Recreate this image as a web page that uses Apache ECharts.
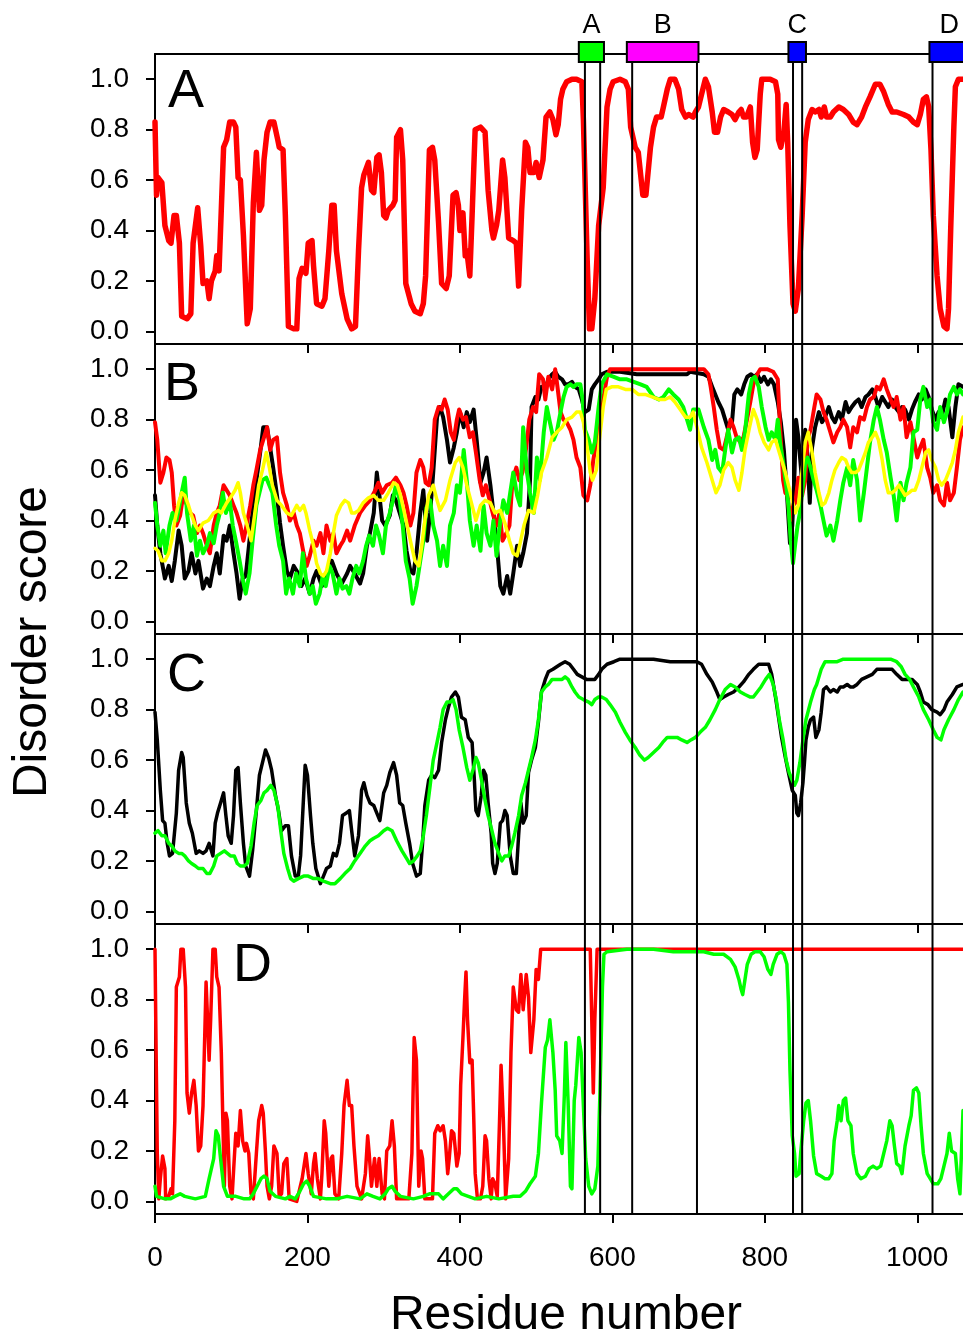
<!DOCTYPE html>
<html><head><meta charset="utf-8">
<script src="https://cdn.jsdelivr.net/npm/echarts@6/dist/echarts.min.js"></script>
<style>html,body{margin:0;padding:0;background:#fff}#c{width:963px;height:1336px}</style>
</head><body><div id="c"></div>
<script>
// ---------- axis ticks ----------
const xTicks = [0, 200, 400, 600, 800, 1000];
const yTicks = [0, 0.2, 0.4, 0.6, 0.8, 1.0];
// ---------- domains & boundaries ----------
const domainNames = ['A', 'B', 'C', 'D'];
const domainStart = [556, 619, 831, 1016];
const domainEnd = [589, 713, 854, 1068];
const domainColors = ['#00ff00', '#ff00ff', '#0000ff', '#0000ff'];
const boundaryLines = [564, 584, 626, 711, 837, 849, 1020];
const panelLetters = ['A', 'B', 'C', 'D'];

// ---------- panel A ----------
const aRed = [[0,0.83],[2,0.54],[4,0.61],[9,0.59],[13,0.42],[18,0.36],[21,0.35],[25,0.46],[28,0.46],[32,0.35],[35,0.06],[42,0.05],[47,0.07],[50,0.35],[56,0.49],[60,0.34],[63,0.19],[68,0.20],[71,0.13],[74,0.20],[79,0.24],[81,0.30],[84,0.24],[90,0.73],[94,0.76],[98,0.83],[103,0.83],[106,0.81],[109,0.61],[112,0.60],[116,0.38],[121,0.03],[125,0.09],[129,0.51],[133,0.71],[137,0.48],[140,0.50],[143,0.68],[147,0.79],[151,0.83],[156,0.83],[161,0.76],[163,0.73],[168,0.72],[171,0.46],[175,0.02],[182,0.01],[186,0.01],[189,0.21],[193,0.25],[198,0.23],[201,0.35],[206,0.36],[208,0.26],[212,0.11],[219,0.10],[223,0.13],[228,0.32],[232,0.50],[235,0.50],[238,0.32],[245,0.15],[252,0.05],[258,0.01],[263,0.02],[267,0.32],[271,0.57],[274,0.62],[280,0.67],[284,0.56],[287,0.55],[291,0.69],[294,0.70],[297,0.63],[300,0.46],[303,0.45],[306,0.48],[312,0.50],[315,0.52],[317,0.77],[322,0.80],[325,0.68],[329,0.19],[336,0.11],[341,0.08],[348,0.07],[352,0.11],[355,0.22],[360,0.72],[364,0.73],[367,0.68],[372,0.43],[376,0.19],[382,0.17],[386,0.22],[391,0.54],[395,0.55],[398,0.50],[400,0.40],[404,0.47],[407,0.30],[409,0.32],[413,0.22],[416,0.46],[420,0.80],[427,0.81],[433,0.79],[435,0.79],[437,0.56],[442,0.40],[444,0.37],[448,0.42],[451,0.48],[456,0.68],[459,0.61],[464,0.37],[470,0.36],[474,0.35],[477,0.18],[481,0.48],[486,0.75],[489,0.73],[492,0.63],[497,0.63],[500,0.67],[504,0.61],[509,0.68],[513,0.85],[518,0.87],[522,0.84],[526,0.78],[529,0.82],[532,0.92],[535,0.96],[540,0.99],[547,1.00],[553,1.00],[560,0.99],[562,0.84],[567,0.28],[570,0.01],[573,0.01],[577,0.13],[582,0.42],[588,0.57],[593,0.89],[597,0.96],[601,0.99],[610,1.00],[617,0.99],[621,0.96],[624,0.81],[630,0.73],[634,0.71],[640,0.54],[644,0.54],[650,0.73],[654,0.81],[658,0.85],[664,0.85],[667,0.89],[672,0.96],[676,1.00],[682,1.00],[687,0.96],[691,0.88],[696,0.85],[700,0.86],[706,0.85],[709,0.87],[713,0.89],[717,0.94],[722,1.00],[726,0.97],[731,0.87],[734,0.79],[738,0.79],[742,0.85],[746,0.88],[752,0.87],[757,0.86],[761,0.84],[766,0.87],[769,0.88],[772,0.85],[776,0.85],[781,0.89],[784,0.75],[787,0.69],[790,0.72],[794,0.94],[796,1.00],[807,1.00],[814,0.99],[817,0.94],[818,0.76],[821,0.73],[825,0.79],[828,0.90],[830,0.75],[833,0.42],[837,0.11],[840,0.08],[844,0.17],[849,0.46],[853,0.75],[857,0.84],[862,0.88],[866,0.87],[871,0.88],[874,0.85],[878,0.89],[881,0.85],[886,0.85],[890,0.87],[897,0.89],[903,0.88],[910,0.86],[916,0.83],[921,0.82],[927,0.85],[932,0.89],[938,0.93],[945,0.98],[951,0.98],[956,0.95],[962,0.90],[967,0.87],[973,0.87],[982,0.86],[989,0.85],[995,0.83],[1000,0.82],[1004,0.86],[1008,0.92],[1012,0.93],[1015,0.89],[1018,0.72],[1021,0.46],[1026,0.22],[1030,0.09],[1035,0.02],[1039,0.01],[1041,0.09],[1044,0.42],[1048,0.81],[1050,0.97],[1054,1.00],[1060,1.00]];

// ---------- panel B ----------
const bBlack = [[0,0.50],[3,0.38],[7,0.27],[10,0.22],[13,0.17],[18,0.22],[22,0.16],[26,0.24],[31,0.36],[35,0.30],[39,0.17],[44,0.20],[48,0.27],[53,0.19],[57,0.24],[63,0.13],[68,0.17],[72,0.14],[77,0.22],[81,0.27],[85,0.19],[90,0.34],[94,0.32],[98,0.38],[103,0.27],[107,0.19],[111,0.09],[115,0.17],[119,0.18],[125,0.35],[129,0.46],[133,0.56],[138,0.67],[142,0.77],[147,0.77],[151,0.69],[155,0.61],[160,0.50],[164,0.39],[168,0.30],[173,0.20],[177,0.17],[182,0.22],[188,0.19],[192,0.14],[197,0.17],[203,0.11],[208,0.17],[212,0.20],[219,0.14],[225,0.19],[232,0.24],[238,0.19],[245,0.15],[252,0.19],[256,0.22],[262,0.19],[269,0.15],[273,0.19],[278,0.30],[282,0.35],[287,0.43],[291,0.59],[294,0.51],[298,0.40],[302,0.38],[308,0.42],[312,0.50],[316,0.48],[321,0.43],[326,0.38],[330,0.28],[335,0.20],[339,0.19],[343,0.27],[348,0.43],[352,0.52],[357,0.32],[361,0.43],[365,0.59],[370,0.81],[374,0.85],[378,0.81],[383,0.72],[387,0.63],[392,0.69],[396,0.75],[400,0.83],[405,0.77],[409,0.83],[413,0.79],[418,0.84],[422,0.72],[427,0.55],[431,0.59],[435,0.65],[440,0.54],[444,0.43],[448,0.32],[453,0.14],[457,0.11],[462,0.18],[466,0.11],[470,0.19],[475,0.30],[479,0.22],[483,0.27],[488,0.35],[492,0.56],[494,0.85],[499,0.89],[503,0.88],[507,0.93],[512,0.92],[516,0.96],[521,0.98],[525,0.99],[529,0.97],[534,0.96],[538,0.94],[542,0.94],[547,0.95],[551,0.93],[556,0.92],[560,0.88],[564,0.83],[569,0.84],[573,0.92],[577,0.94],[582,0.96],[586,0.98],[593,0.99],[610,0.99],[632,0.98],[654,0.98],[676,0.98],[698,0.98],[702,0.99],[720,0.98],[726,0.97],[731,0.93],[735,0.90],[739,0.87],[744,0.84],[748,0.80],[752,0.76],[757,0.79],[760,0.90],[764,0.92],[769,0.90],[773,0.94],[777,0.97],[782,0.98],[786,0.97],[790,0.98],[795,0.95],[799,0.97],[804,0.94],[808,0.96],[812,0.94],[817,0.87],[821,0.79],[825,0.68],[829,0.51],[833,0.31],[836,0.38],[839,0.59],[841,0.80],[844,0.73],[849,0.55],[853,0.76],[856,0.65],[859,0.47],[862,0.69],[866,0.77],[871,0.83],[875,0.79],[879,0.81],[884,0.85],[888,0.81],[892,0.79],[897,0.83],[901,0.80],[906,0.87],[910,0.83],[914,0.85],[919,0.87],[923,0.88],[927,0.85],[932,0.89],[936,0.90],[941,0.92],[945,0.89],[949,0.85],[954,0.89],[958,0.87],[962,0.85],[967,0.88],[971,0.85],[976,0.83],[980,0.85],[984,0.84],[989,0.80],[993,0.84],[997,0.87],[1002,0.90],[1006,0.88],[1011,0.92],[1015,0.89],[1019,0.84],[1024,0.80],[1028,0.83],[1032,0.81],[1037,0.88],[1041,0.85],[1046,0.73],[1050,0.85],[1054,0.94],[1060,0.93]];
const bRed = [[0,0.79],[3,0.72],[7,0.55],[11,0.59],[15,0.65],[19,0.64],[22,0.59],[25,0.46],[28,0.38],[33,0.42],[37,0.50],[42,0.46],[46,0.43],[50,0.42],[55,0.35],[59,0.38],[63,0.35],[68,0.30],[72,0.27],[77,0.38],[81,0.43],[85,0.46],[90,0.54],[94,0.52],[98,0.50],[103,0.46],[107,0.43],[112,0.38],[116,0.32],[120,0.38],[125,0.46],[129,0.54],[133,0.60],[138,0.68],[142,0.72],[147,0.77],[151,0.68],[155,0.72],[160,0.73],[164,0.59],[168,0.51],[173,0.46],[177,0.40],[182,0.43],[186,0.38],[190,0.35],[195,0.27],[199,0.22],[203,0.26],[208,0.32],[212,0.30],[217,0.35],[221,0.27],[225,0.38],[230,0.32],[234,0.35],[238,0.27],[243,0.30],[247,0.32],[252,0.36],[256,0.32],[262,0.38],[269,0.43],[276,0.46],[282,0.48],[289,0.52],[293,0.55],[298,0.51],[304,0.54],[311,0.55],[316,0.57],[322,0.54],[326,0.51],[330,0.46],[335,0.38],[339,0.43],[343,0.59],[348,0.64],[352,0.61],[355,0.55],[359,0.54],[363,0.61],[367,0.80],[372,0.85],[376,0.84],[380,0.88],[384,0.84],[388,0.75],[392,0.72],[396,0.80],[399,0.84],[404,0.80],[408,0.81],[413,0.73],[417,0.75],[421,0.67],[426,0.56],[430,0.50],[434,0.54],[439,0.48],[443,0.43],[448,0.38],[452,0.43],[456,0.32],[461,0.35],[465,0.38],[469,0.56],[474,0.61],[478,0.56],[482,0.59],[487,0.69],[491,0.80],[496,0.85],[500,0.83],[504,0.98],[509,0.96],[512,0.88],[516,0.97],[521,0.92],[525,1.00],[528,0.93],[532,0.83],[536,0.80],[540,0.79],[545,0.76],[549,0.72],[553,0.65],[558,0.61],[562,0.50],[567,0.48],[571,0.54],[575,0.64],[580,0.73],[584,0.80],[588,0.88],[593,0.97],[597,1.00],[720,1.00],[726,0.98],[729,0.93],[733,0.85],[737,0.76],[741,0.69],[746,0.68],[750,0.73],[755,0.80],[759,0.77],[763,0.73],[768,0.71],[772,0.73],[776,0.79],[781,0.87],[785,0.94],[790,0.98],[794,1.00],[803,1.00],[811,0.99],[817,0.96],[820,0.77],[824,0.56],[827,0.51],[830,0.50],[833,0.40],[837,0.46],[840,0.47],[844,0.57],[849,0.50],[853,0.56],[856,0.72],[860,0.76],[865,0.85],[868,0.90],[873,0.88],[877,0.83],[881,0.80],[886,0.75],[890,0.71],[895,0.75],[899,0.77],[903,0.80],[908,0.77],[912,0.69],[916,0.77],[921,0.75],[925,0.81],[930,0.80],[934,0.85],[938,0.88],[943,0.89],[947,0.93],[951,0.92],[956,0.96],[960,0.92],[965,0.88],[969,0.85],[973,0.89],[978,0.80],[982,0.85],[986,0.73],[991,0.79],[995,0.73],[1000,0.65],[1004,0.69],[1008,0.72],[1013,0.61],[1017,0.57],[1021,0.51],[1026,0.54],[1030,0.48],[1035,0.46],[1039,0.55],[1043,0.48],[1048,0.51],[1052,0.61],[1056,0.72],[1060,0.77]];
const bGreen = [[0,0.47],[3,0.38],[7,0.30],[11,0.36],[14,0.27],[19,0.38],[23,0.43],[28,0.40],[32,0.46],[35,0.51],[39,0.57],[42,0.43],[47,0.32],[51,0.38],[55,0.26],[59,0.32],[63,0.27],[68,0.30],[72,0.35],[77,0.31],[81,0.38],[85,0.43],[89,0.51],[93,0.43],[98,0.48],[102,0.38],[106,0.32],[111,0.24],[115,0.17],[119,0.11],[124,0.19],[128,0.32],[133,0.46],[137,0.51],[141,0.56],[146,0.57],[150,0.54],[154,0.51],[159,0.38],[163,0.30],[168,0.24],[172,0.11],[176,0.17],[181,0.11],[185,0.19],[190,0.14],[194,0.27],[198,0.17],[203,0.11],[207,0.14],[211,0.07],[216,0.11],[220,0.18],[224,0.14],[229,0.22],[233,0.19],[238,0.11],[242,0.17],[246,0.13],[251,0.14],[255,0.11],[259,0.17],[264,0.22],[268,0.19],[273,0.24],[277,0.30],[281,0.34],[286,0.30],[290,0.38],[294,0.34],[299,0.27],[303,0.38],[308,0.43],[312,0.48],[316,0.54],[321,0.48],[325,0.38],[329,0.24],[334,0.17],[338,0.07],[343,0.14],[347,0.22],[352,0.32],[356,0.45],[361,0.48],[365,0.38],[370,0.32],[374,0.22],[378,0.30],[383,0.22],[387,0.38],[392,0.43],[396,0.54],[400,0.51],[405,0.68],[409,0.56],[413,0.40],[418,0.30],[422,0.38],[427,0.28],[431,0.46],[435,0.35],[440,0.30],[444,0.40],[448,0.26],[453,0.40],[457,0.48],[462,0.43],[466,0.51],[470,0.59],[475,0.50],[479,0.46],[483,0.77],[488,0.59],[492,0.51],[497,0.43],[501,0.65],[505,0.56],[510,0.75],[514,0.85],[518,0.79],[523,0.72],[527,0.75],[532,0.83],[536,0.89],[540,0.93],[545,0.94],[549,0.93],[553,0.94],[558,0.94],[561,0.88],[564,0.76],[569,0.72],[573,0.67],[577,0.71],[582,0.85],[586,0.94],[593,0.98],[602,0.97],[610,0.96],[619,0.96],[628,0.95],[637,0.94],[645,0.93],[654,0.89],[661,0.88],[667,0.89],[674,0.92],[680,0.90],[687,0.88],[693,0.85],[698,0.80],[702,0.76],[706,0.84],[713,0.84],[720,0.77],[726,0.72],[731,0.64],[735,0.68],[739,0.61],[744,0.59],[748,0.68],[752,0.76],[757,0.67],[761,0.72],[766,0.73],[770,0.68],[774,0.75],[779,0.90],[783,0.96],[787,0.97],[792,0.93],[796,0.85],[801,0.77],[805,0.72],[809,0.75],[814,0.72],[817,0.80],[820,0.71],[825,0.61],[828,0.54],[831,0.46],[834,0.32],[837,0.23],[840,0.31],[843,0.38],[846,0.43],[850,0.54],[853,0.63],[856,0.65],[860,0.61],[864,0.56],[868,0.52],[873,0.46],[877,0.40],[881,0.34],[886,0.38],[890,0.32],[895,0.40],[899,0.48],[903,0.55],[908,0.61],[912,0.54],[916,0.64],[921,0.56],[925,0.40],[930,0.51],[934,0.61],[938,0.71],[943,0.80],[947,0.85],[951,0.80],[956,0.72],[960,0.67],[965,0.57],[969,0.50],[973,0.40],[978,0.55],[982,0.48],[986,0.55],[991,0.61],[995,0.75],[1000,0.76],[1004,0.88],[1008,0.93],[1013,0.85],[1017,0.88],[1021,0.79],[1026,0.76],[1030,0.85],[1035,0.79],[1039,0.83],[1043,0.90],[1048,0.93],[1052,0.90],[1056,0.92],[1060,0.90]];
const bYellow = [[0,0.29],[4,0.28],[9,0.24],[13,0.24],[18,0.27],[22,0.32],[26,0.40],[31,0.47],[35,0.51],[39,0.50],[44,0.46],[48,0.42],[53,0.38],[57,0.36],[63,0.39],[70,0.40],[77,0.43],[83,0.44],[87,0.43],[94,0.47],[101,0.50],[105,0.52],[109,0.55],[112,0.51],[116,0.43],[121,0.38],[126,0.32],[131,0.43],[136,0.54],[141,0.60],[146,0.67],[150,0.61],[154,0.54],[160,0.48],[166,0.46],[173,0.43],[179,0.42],[186,0.46],[190,0.44],[195,0.46],[198,0.43],[203,0.36],[208,0.30],[212,0.23],[217,0.19],[221,0.18],[225,0.20],[230,0.27],[234,0.35],[238,0.42],[244,0.46],[249,0.48],[254,0.47],[258,0.43],[262,0.43],[267,0.44],[273,0.47],[280,0.49],[287,0.50],[293,0.48],[300,0.48],[306,0.51],[313,0.55],[318,0.54],[322,0.50],[328,0.42],[335,0.32],[341,0.24],[346,0.22],[350,0.30],[354,0.40],[359,0.50],[365,0.54],[370,0.48],[374,0.44],[381,0.48],[387,0.56],[394,0.63],[399,0.65],[404,0.61],[409,0.54],[416,0.46],[421,0.40],[427,0.46],[433,0.48],[440,0.47],[446,0.43],[453,0.44],[459,0.39],[465,0.32],[470,0.27],[475,0.26],[479,0.31],[484,0.38],[490,0.44],[497,0.43],[502,0.50],[507,0.59],[514,0.65],[521,0.73],[527,0.75],[534,0.77],[540,0.80],[547,0.81],[553,0.83],[558,0.83],[562,0.79],[567,0.69],[571,0.59],[574,0.56],[579,0.60],[583,0.72],[588,0.85],[592,0.92],[599,0.93],[608,0.93],[617,0.92],[626,0.92],[634,0.90],[643,0.90],[652,0.89],[661,0.88],[669,0.88],[676,0.89],[682,0.87],[689,0.84],[696,0.81],[702,0.81],[706,0.83],[711,0.77],[717,0.69],[724,0.63],[731,0.56],[736,0.51],[741,0.54],[746,0.60],[752,0.63],[757,0.61],[761,0.56],[766,0.52],[770,0.59],[774,0.68],[780,0.77],[785,0.84],[790,0.80],[794,0.75],[799,0.71],[805,0.68],[809,0.71],[814,0.72],[818,0.68],[822,0.64],[827,0.59],[831,0.54],[836,0.48],[840,0.43],[844,0.46],[849,0.60],[853,0.71],[857,0.75],[862,0.67],[866,0.59],[871,0.51],[875,0.46],[879,0.47],[884,0.51],[888,0.56],[892,0.60],[897,0.63],[901,0.65],[906,0.64],[910,0.61],[914,0.59],[919,0.59],[923,0.60],[927,0.63],[932,0.67],[936,0.71],[941,0.73],[945,0.75],[949,0.72],[954,0.64],[958,0.56],[962,0.51],[967,0.51],[971,0.52],[976,0.54],[980,0.52],[984,0.50],[989,0.51],[993,0.52],[997,0.52],[1002,0.56],[1006,0.61],[1011,0.67],[1015,0.68],[1019,0.64],[1024,0.61],[1028,0.56],[1032,0.54],[1037,0.56],[1041,0.59],[1046,0.63],[1050,0.68],[1054,0.75],[1060,0.81]];

// ---------- panel C ----------
const cBlack = [[0,0.79],[3,0.68],[7,0.48],[10,0.36],[13,0.35],[16,0.27],[19,0.22],[23,0.23],[28,0.39],[31,0.56],[35,0.63],[37,0.61],[41,0.43],[45,0.35],[49,0.31],[54,0.23],[58,0.24],[63,0.23],[67,0.24],[71,0.27],[76,0.22],[79,0.35],[82,0.39],[86,0.43],[90,0.47],[93,0.38],[96,0.30],[100,0.27],[103,0.38],[106,0.56],[109,0.57],[112,0.43],[116,0.27],[119,0.18],[124,0.14],[128,0.24],[133,0.40],[137,0.54],[141,0.59],[145,0.64],[149,0.61],[153,0.56],[158,0.46],[162,0.40],[166,0.32],[171,0.34],[175,0.34],[179,0.22],[184,0.14],[188,0.14],[191,0.22],[195,0.46],[197,0.58],[200,0.54],[204,0.38],[207,0.27],[211,0.17],[214,0.14],[217,0.11],[221,0.14],[225,0.17],[230,0.18],[234,0.23],[238,0.22],[242,0.27],[246,0.38],[251,0.39],[255,0.40],[258,0.32],[262,0.22],[267,0.30],[271,0.48],[274,0.51],[278,0.46],[282,0.43],[287,0.42],[291,0.39],[295,0.36],[300,0.47],[304,0.50],[308,0.55],[313,0.59],[317,0.54],[321,0.43],[325,0.42],[329,0.35],[334,0.27],[338,0.19],[343,0.14],[348,0.15],[351,0.27],[354,0.42],[359,0.52],[363,0.54],[367,0.53],[372,0.56],[376,0.67],[381,0.76],[385,0.81],[389,0.85],[394,0.87],[398,0.85],[402,0.77],[407,0.76],[411,0.69],[416,0.67],[419,0.52],[421,0.40],[424,0.38],[428,0.46],[431,0.56],[434,0.54],[437,0.43],[441,0.31],[443,0.19],[446,0.15],[449,0.19],[453,0.35],[456,0.36],[459,0.40],[462,0.38],[466,0.22],[470,0.15],[474,0.15],[477,0.30],[480,0.43],[483,0.35],[487,0.38],[490,0.55],[494,0.60],[499,0.65],[503,0.75],[507,0.87],[512,0.92],[516,0.95],[522,0.96],[527,0.97],[532,0.98],[538,0.99],[544,0.98],[549,0.96],[554,0.94],[560,0.93],[566,0.92],[573,0.92],[577,0.92],[582,0.94],[586,0.96],[593,0.98],[602,0.99],[610,1.00],[632,1.00],[654,1.00],[676,0.99],[698,0.99],[711,0.99],[717,0.98],[724,0.94],[731,0.91],[737,0.87],[741,0.84],[746,0.85],[752,0.86],[759,0.87],[766,0.89],[772,0.91],[779,0.94],[785,0.96],[792,0.98],[799,0.98],[805,0.98],[809,0.94],[814,0.85],[818,0.77],[822,0.69],[827,0.61],[831,0.55],[836,0.48],[840,0.46],[842,0.39],[844,0.38],[847,0.43],[850,0.51],[852,0.59],[854,0.68],[857,0.73],[860,0.76],[864,0.77],[867,0.69],[871,0.72],[874,0.79],[877,0.88],[881,0.89],[886,0.87],[890,0.88],[895,0.87],[899,0.89],[903,0.89],[908,0.90],[912,0.89],[916,0.89],[921,0.90],[927,0.92],[934,0.93],[941,0.94],[947,0.96],[954,0.96],[960,0.96],[967,0.96],[973,0.94],[980,0.92],[986,0.92],[993,0.92],[1000,0.90],[1004,0.87],[1008,0.83],[1014,0.82],[1019,0.80],[1026,0.79],[1030,0.78],[1035,0.80],[1039,0.83],[1046,0.86],[1052,0.89],[1060,0.90]];
const cGreen = [[0,0.31],[4,0.32],[9,0.30],[13,0.30],[18,0.27],[22,0.26],[26,0.24],[31,0.23],[35,0.23],[39,0.22],[44,0.20],[48,0.19],[53,0.18],[57,0.17],[63,0.17],[68,0.15],[72,0.15],[77,0.18],[81,0.22],[86,0.23],[91,0.24],[95,0.23],[99,0.22],[104,0.22],[108,0.19],[112,0.18],[117,0.18],[121,0.19],[126,0.26],[130,0.35],[134,0.42],[139,0.44],[143,0.47],[147,0.48],[152,0.50],[156,0.48],[161,0.42],[165,0.32],[169,0.23],[174,0.17],[178,0.13],[182,0.12],[188,0.13],[195,0.14],[201,0.14],[208,0.13],[214,0.13],[221,0.12],[230,0.11],[236,0.11],[243,0.13],[249,0.15],[256,0.17],[262,0.20],[269,0.23],[276,0.26],[282,0.28],[287,0.29],[293,0.30],[300,0.32],[305,0.33],[311,0.32],[317,0.28],[324,0.24],[330,0.21],[334,0.19],[339,0.20],[344,0.22],[348,0.24],[352,0.30],[356,0.38],[361,0.50],[365,0.60],[370,0.67],[374,0.73],[378,0.80],[383,0.83],[387,0.83],[391,0.84],[395,0.80],[399,0.72],[404,0.65],[409,0.57],[413,0.52],[418,0.57],[421,0.61],[424,0.59],[429,0.51],[433,0.44],[437,0.38],[442,0.32],[446,0.27],[451,0.23],[455,0.20],[459,0.22],[464,0.22],[468,0.26],[472,0.31],[477,0.38],[481,0.46],[486,0.51],[490,0.56],[494,0.61],[499,0.68],[503,0.76],[507,0.87],[512,0.89],[516,0.90],[521,0.92],[527,0.92],[534,0.92],[538,0.93],[542,0.92],[547,0.89],[551,0.87],[556,0.85],[562,0.84],[569,0.83],[573,0.82],[577,0.84],[582,0.85],[586,0.85],[592,0.84],[597,0.82],[604,0.79],[610,0.75],[617,0.71],[623,0.68],[630,0.65],[636,0.62],[642,0.60],[647,0.61],[654,0.63],[661,0.65],[666,0.67],[672,0.69],[678,0.69],[685,0.69],[691,0.68],[698,0.67],[703,0.68],[709,0.69],[715,0.71],[722,0.73],[728,0.76],[735,0.80],[741,0.84],[748,0.88],[755,0.90],[761,0.89],[768,0.87],[774,0.86],[781,0.85],[785,0.85],[790,0.87],[795,0.89],[801,0.92],[806,0.94],[811,0.90],[815,0.84],[819,0.76],[824,0.68],[828,0.60],[832,0.55],[836,0.52],[839,0.50],[842,0.52],[846,0.59],[850,0.68],[854,0.76],[860,0.83],[865,0.88],[868,0.90],[874,0.96],[879,0.99],[886,0.99],[895,0.99],[903,1.00],[921,1.00],[943,1.00],[965,1.00],[973,0.99],[979,0.97],[984,0.94],[990,0.92],[995,0.89],[1002,0.85],[1008,0.80],[1015,0.76],[1021,0.72],[1026,0.69],[1031,0.68],[1035,0.72],[1041,0.76],[1048,0.80],[1054,0.84],[1060,0.87]];

// ---------- panel D ----------
const dRed = [[0,1.00],[1,0.72],[3,0.19],[5,0.01],[7,0.09],[10,0.18],[13,0.13],[14,0.01],[18,0.02],[21,0.05],[23,0.03],[26,0.32],[28,0.85],[32,0.89],[34,1.00],[37,1.00],[40,0.85],[42,0.43],[45,0.35],[48,0.43],[51,0.48],[54,0.38],[57,0.20],[60,0.22],[63,0.38],[67,0.87],[69,0.72],[71,0.56],[73,0.72],[76,1.00],[79,1.00],[81,0.89],[84,0.85],[87,0.59],[89,0.32],[91,0.06],[93,0.35],[95,0.32],[98,0.06],[101,0.01],[104,0.17],[106,0.27],[109,0.22],[112,0.36],[115,0.24],[118,0.20],[120,0.23],[123,0.19],[126,0.03],[129,0.01],[133,0.19],[136,0.32],[140,0.38],[142,0.35],[145,0.19],[147,0.06],[150,0.01],[153,0.06],[156,0.22],[160,0.19],[163,0.02],[166,0.03],[169,0.15],[173,0.17],[176,0.01],[186,0.00],[193,0.09],[198,0.19],[201,0.11],[205,0.03],[208,0.15],[210,0.19],[213,0.09],[217,0.01],[219,0.11],[222,0.32],[224,0.27],[228,0.06],[231,0.17],[233,0.18],[236,0.03],[241,0.01],[245,0.19],[248,0.38],[252,0.48],[255,0.38],[258,0.38],[261,0.22],[265,0.06],[271,0.01],[276,0.11],[279,0.26],[281,0.19],[284,0.06],[288,0.17],[291,0.06],[294,0.17],[298,0.03],[301,0.01],[304,0.20],[308,0.22],[311,0.32],[314,0.22],[317,0.01],[333,0.01],[337,0.19],[340,0.65],[343,0.56],[346,0.06],[349,0.20],[351,0.17],[354,0.01],[364,0.01],[367,0.27],[371,0.30],[374,0.28],[378,0.30],[381,0.24],[384,0.11],[386,0.17],[389,0.28],[392,0.27],[396,0.14],[399,0.19],[401,0.46],[404,0.65],[406,0.79],[408,0.91],[410,0.72],[413,0.55],[416,0.56],[418,0.35],[420,0.11],[423,0.01],[427,0.01],[430,0.06],[433,0.26],[435,0.24],[438,0.09],[441,0.01],[443,0.09],[446,0.07],[449,0.02],[452,0.32],[454,0.54],[457,0.32],[460,0.01],[464,0.17],[467,0.59],[470,0.85],[474,0.76],[477,0.75],[480,0.90],[483,0.76],[487,0.90],[490,0.81],[493,0.59],[497,0.72],[500,0.92],[503,0.88],[506,1.00],[571,1.00],[573,0.72],[575,0.43],[577,0.72],[580,1.00],[1060,1.00]];
const dGreen = [[0,0.06],[2,0.02],[13,0.01],[20,0.01],[26,0.02],[33,0.03],[39,0.02],[53,0.01],[66,0.02],[71,0.09],[77,0.17],[80,0.28],[83,0.26],[86,0.17],[90,0.06],[95,0.02],[106,0.02],[117,0.01],[124,0.01],[129,0.03],[134,0.06],[139,0.09],[143,0.10],[147,0.09],[151,0.04],[158,0.02],[171,0.01],[177,0.02],[184,0.01],[190,0.04],[195,0.07],[199,0.08],[203,0.06],[208,0.02],[225,0.01],[238,0.01],[252,0.02],[269,0.01],[278,0.03],[286,0.02],[295,0.01],[302,0.03],[306,0.05],[311,0.06],[315,0.04],[322,0.02],[339,0.01],[352,0.02],[360,0.03],[365,0.03],[372,0.03],[378,0.01],[385,0.03],[392,0.05],[396,0.05],[402,0.03],[420,0.01],[435,0.02],[451,0.01],[470,0.02],[479,0.02],[486,0.04],[492,0.07],[499,0.10],[503,0.19],[507,0.39],[512,0.61],[515,0.64],[518,0.72],[522,0.59],[525,0.44],[527,0.26],[531,0.24],[534,0.19],[537,0.42],[539,0.63],[542,0.39],[545,0.06],[547,0.05],[550,0.40],[552,0.46],[556,0.65],[559,0.59],[562,0.38],[565,0.17],[569,0.06],[573,0.03],[577,0.05],[581,0.14],[584,0.46],[587,0.85],[589,0.98],[593,0.99],[619,1.00],[654,1.00],[680,0.99],[702,0.99],[720,0.99],[733,0.98],[746,0.98],[755,0.96],[761,0.93],[766,0.88],[769,0.84],[771,0.82],[774,0.88],[777,0.94],[782,0.98],[787,0.99],[794,0.99],[799,0.97],[804,0.92],[808,0.90],[811,0.94],[816,0.98],[821,0.99],[825,0.98],[829,0.94],[831,0.79],[833,0.52],[836,0.26],[839,0.19],[841,0.10],[845,0.11],[847,0.19],[851,0.32],[854,0.39],[857,0.40],[860,0.32],[864,0.18],[868,0.11],[874,0.10],[879,0.09],[884,0.09],[888,0.11],[891,0.24],[895,0.32],[897,0.38],[900,0.32],[903,0.40],[906,0.41],[909,0.32],[913,0.30],[916,0.19],[921,0.11],[926,0.09],[932,0.10],[937,0.13],[942,0.14],[947,0.13],[952,0.14],[956,0.19],[960,0.24],[964,0.32],[967,0.30],[970,0.22],[973,0.15],[977,0.14],[980,0.11],[984,0.22],[989,0.30],[992,0.34],[995,0.44],[999,0.45],[1002,0.43],[1005,0.30],[1008,0.19],[1013,0.11],[1017,0.09],[1021,0.07],[1027,0.07],[1031,0.09],[1035,0.14],[1039,0.19],[1042,0.27],[1045,0.20],[1050,0.19],[1053,0.09],[1056,0.03],[1060,0.36]];

// ---------- build chart ----------
const FONT = '"Liberation Sans", Arial, Helvetica, sans-serif';
const YMIN = -0.05, YMAX = 1.1, XMAX = 1060;
const panelTops = [54, 344, 634, 924];
const PANEL_H = 290;

const grids = panelTops.map(t => ({left: 155, right: 0, top: t, height: PANEL_H, show: false}));

const AXLINE = {show: true, onZero: false, lineStyle: {color: '#000', width: 2}};
const xAxes = panelTops.map((t, i) => ({
  type: 'value', gridIndex: i, min: 0, max: XMAX, position: 'bottom',
  axisLine: AXLINE, splitLine: {show: false},
  axisTick: {show: true, inside: false, length: 9, lineStyle: {color: '#000', width: 2}, customValues: xTicks},
  axisLabel: {show: i === 3, customValues: xTicks, formatter: v => String(v), fontSize: 28, color: '#000', fontFamily: FONT, margin: 30}
}));
// top frame line of panel A
xAxes.push({type: 'value', gridIndex: 0, min: 0, max: XMAX, position: 'top',
  axisLine: AXLINE, axisTick: {show: false}, axisLabel: {show: false}, splitLine: {show: false}});

const yAxes = panelTops.map((t, i) => ({
  type: 'value', gridIndex: i, min: YMIN, max: YMAX,
  axisLine: AXLINE, splitLine: {show: false},
  axisTick: {show: true, inside: false, length: 9, lineStyle: {color: '#000', width: 2}, customValues: yTicks},
  axisLabel: {customValues: yTicks, formatter: v => Number(v).toFixed(1), fontSize: 28, color: '#000', fontFamily: FONT, margin: 26}
}));

function lineSeries(data, g, color, width, z) {
  return {type: 'line', xAxisIndex: g, yAxisIndex: g, data: data, showSymbol: false, symbol: 'none',
    lineStyle: {color: color, width: width, join: 'round', cap: 'round'}, itemStyle: {color: color},
    z: z, silent: true, animation: false};
}

const series = [
  lineSeries(aRed, 0, '#ff0000', 5.5, 2),
  lineSeries(bBlack, 1, '#000000', 4, 2),
  lineSeries(bRed, 1, '#ff0000', 4, 3),
  lineSeries(bGreen, 1, '#00ff00', 4, 4),
  lineSeries(bYellow, 1, '#ffff00', 3.5, 5),
  lineSeries(cBlack, 2, '#000000', 3.5, 2),
  lineSeries(cGreen, 2, '#00ff00', 3.5, 3),
  lineSeries(dRed, 3, '#ff0000', 3.5, 2),
  lineSeries(dGreen, 3, '#00ff00', 3.5, 3)
];

// boundary lines in every panel
panelTops.forEach((t, g) => {
  series.push({
    type: 'custom', xAxisIndex: g, yAxisIndex: g, z: 20, silent: true, animation: false,
    data: boundaryLines.map(v => [v, 0]),
    renderItem: function (params, api) {
      const x = api.value(0);
      const a = api.coord([x, YMAX]);
      const b = api.coord([x, YMIN]);
      return {type: 'line', shape: {x1: a[0], y1: a[1], x2: b[0], y2: b[1]}, style: {stroke: '#000', lineWidth: 2}};
    }
  });
});

// domain boxes on top of panel A
series.push({
  type: 'custom', xAxisIndex: 0, yAxisIndex: 0, z: 30, silent: true, animation: false, clip: false,
  data: domainStart.map((s, i) => [s, domainEnd[i], i]),
  encode: {x: [0, 1]},
  renderItem: function (params, api) {
    const s = api.value(0), e = api.value(1), i = api.value(2);
    const p1 = api.coord([s, YMAX]);
    const p2 = api.coord([e, YMAX]);
    const top = p1[1];
    return {type: 'group', children: [
      {type: 'rect', shape: {x: p1[0], y: top - 12, width: p2[0] - p1[0], height: 20},
        style: {fill: domainColors[i], stroke: '#000', lineWidth: 2}},
      {type: 'text', style: {text: domainNames[i], x: (p1[0] + p2[0]) / 2, y: top - 28,
        align: 'center', verticalAlign: 'middle', fontSize: 27, fontFamily: FONT, fill: '#000'}}
    ]};
  }
});

const letterPos = [[168, 92], [164, 385], [167, 676], [233, 966]];
const graphic = [
  {type: 'text', x: 33, y: 642, rotation: Math.PI / 2,
    style: {text: 'Disorder score', fontSize: 48, fontFamily: FONT, fill: '#000', align: 'center', verticalAlign: 'middle'}},
  {type: 'text', x: 566, y: 1316,
    style: {text: 'Residue number', fontSize: 48, fontFamily: FONT, fill: '#000', align: 'center', verticalAlign: 'middle'}}
].concat(panelLetters.map((L, i) => ({type: 'text', x: letterPos[i][0], y: letterPos[i][1], z: 40,
    style: {text: L, fontSize: 54, fontFamily: FONT, fill: '#000', align: 'left', verticalAlign: 'middle'}})));

const chart = echarts.init(document.getElementById('c'), null, {renderer: 'canvas'});
chart.setOption({
  animation: false,
  backgroundColor: '#fff',
  grid: grids, xAxis: xAxes, yAxis: yAxes,
  series: series,
  graphic: graphic
});
</script>
</body></html>
